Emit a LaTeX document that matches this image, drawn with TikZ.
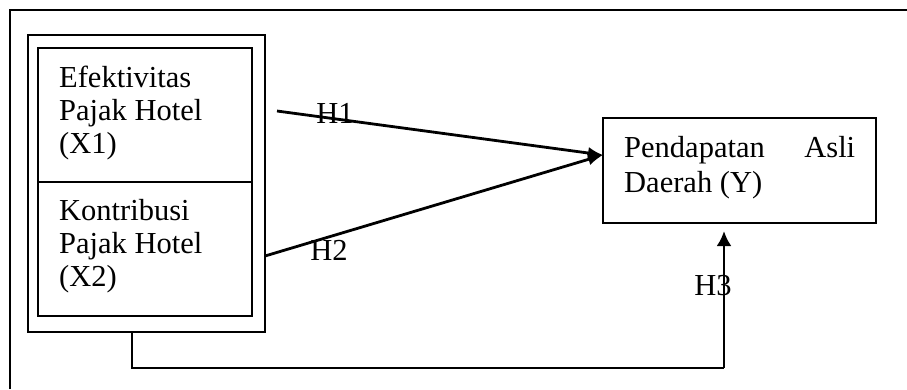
\documentclass[tikz,border=0pt]{standalone}
\usepackage{fontspec}
\setmainfont{Liberation Serif}
\usetikzlibrary{arrows.meta}
\begin{document}
\begin{tikzpicture}[x=1pt,y=-1pt,
  frame/.style={line width=2.6pt},
  boxline/.style={draw,line width=2.8pt,rectangle,inner sep=0pt},
  txt/.style={font=\fontsize{30.5}{33}\selectfont,inner sep=0pt,anchor=base west},
  hlabel/.style={font=\fontsize{30.5}{33}\selectfont,inner sep=0pt},
  arr/.style={line width=2.8pt,-{Latex[length=15pt,width=12pt]}},
  thin/.style={line width=1.3pt}]
\useasboundingbox (0,0) rectangle (907,389);
% page frame
\draw[frame] (10,389) -- (10,10) -- (907,10);
% boxes
\node[boxline,minimum width=237pt,minimum height=297pt] (outer) at (146.5,183.5) {};
\node[boxline,minimum width=214pt,minimum height=134pt] (x1) at (145,115) {};
\node[boxline,minimum width=214pt,minimum height=134pt] (x2) at (145,249) {};
\node[boxline,minimum width=273pt,minimum height=105pt] (y) at (739.5,170.5) {};
% texts
\node[txt] (t1a) at (59,87) {Efektivitas};
\node[txt] (t1b) at (59,120) {Pajak Hotel};
\node[txt] (t1c) at (59,153) {(X1)};
\node[txt] (t2a) at (59,220) {Kontribusi};
\node[txt] (t2b) at (59,253) {Pajak Hotel};
\node[txt] (t2c) at (59,286) {(X2)};
\node[txt] (tya) at (624,157) {\hbox to 231pt{Pendapatan\hfill Asli}};
\node[txt] (tyb) at (624,192) {Daerah (Y)};
% connector points
\coordinate (h1s) at (277,111);
\coordinate (yin) at (603,155);
\coordinate (h2s) at (265,256);
\coordinate (bs) at (132,333);
\coordinate (bc) at (132,368);
\coordinate (c3) at (724,368);
\coordinate (ytip) at (724,231);
% arrows
\draw[arr] (h1s) -- (yin);
\draw[arr] (h2s) -- (yin);
\draw[thin] (bs) -- (bc) -- (c3);
\draw[arr,-{Latex[length=15pt,width=15pt]}] (c3) -- (ytip);
% labels
\node[hlabel] (lh1) at (335,113) {H1};
\node[hlabel] (lh2) at (329,250) {H2};
\node[hlabel] (lh3) at (713,286) {H3};
\end{tikzpicture}
\end{document}
